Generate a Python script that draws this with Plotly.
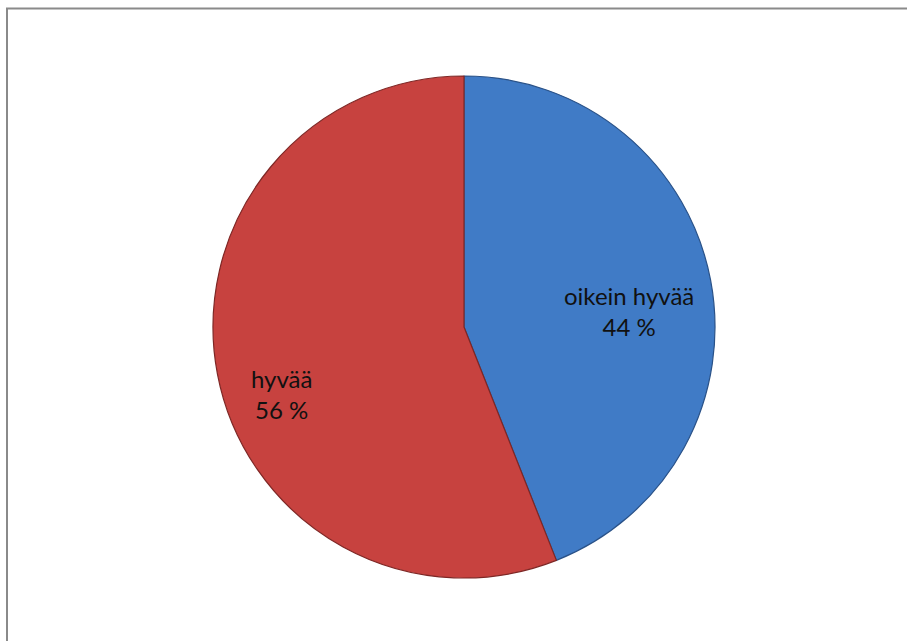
import plotly.graph_objects as go

# Share of answers per rating
labels = ["oikein hyvää", "hyvää"]
values = [44, 56]
colors = ["#407bc6", "#c7423f"]
edge_colors = ["#2a5288", "#7e2725"]

W, H = 907, 641
cx, cy, r = 464, 327, 251

fig = go.Figure(
    go.Pie(
        labels=labels,
        values=values,
        sort=False,
        direction="clockwise",
        rotation=0,
        marker=dict(colors=colors, line=dict(color=edge_colors, width=1.2)),
        textinfo="none",
        hoverinfo="label+percent",
        showlegend=False,
        domain=dict(
            x=[(cx - r) / W, (cx + r) / W],
            y=[(H - cy - r) / H, (H - cy + r) / H],
        ),
    )
)

# Data labels: category name and share, placed inside each slice
label_pos = [(629, 311), (281, 394)]
for name, val, (px, py) in zip(labels, values, label_pos):
    fig.add_annotation(
        x=px / W, y=1 - py / H, xref="paper", yref="paper",
        xanchor="center", yanchor="middle",
        text=f"{name}<br>{val} %", showarrow=False,
        font=dict(family="Lato, Open Sans, sans-serif", size=24, color="#111111"),
        align="center",
    )

# Chart frame
fig.add_shape(
    type="rect", xref="paper", yref="paper",
    x0=7 / W, x1=1.02, y0=-0.02, y1=1 - 8.5 / H,
    line=dict(color="#8a8a8a", width=2), fillcolor="rgba(0,0,0,0)",
)

fig.update_layout(
    width=W, height=H,
    margin=dict(l=0, r=0, t=0, b=0),
    paper_bgcolor="white",
    plot_bgcolor="white",
)

fig.write_html("out.html")
